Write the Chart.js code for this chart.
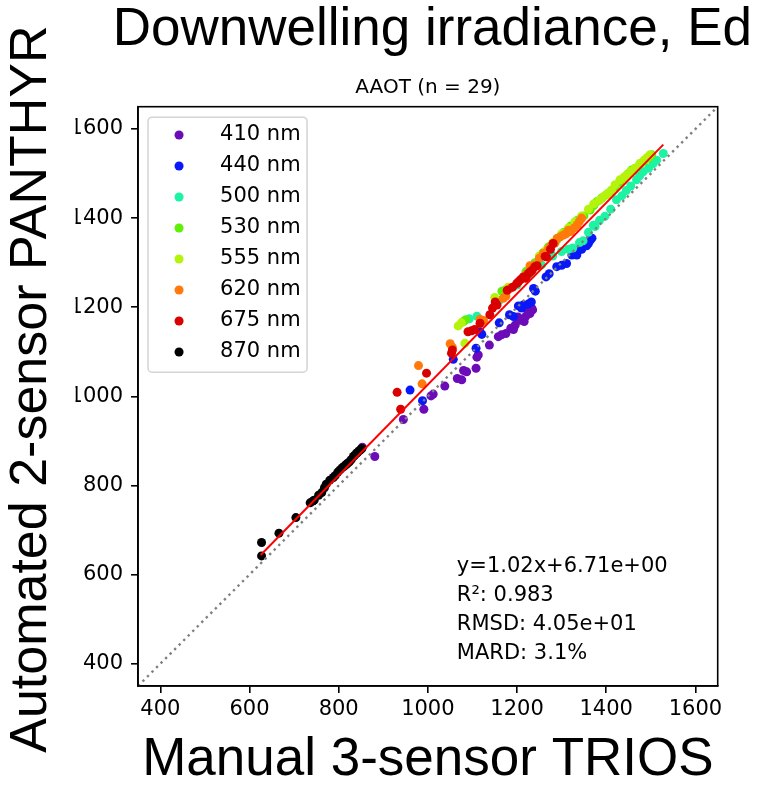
<!DOCTYPE html>
<html>
<head>
<meta charset="utf-8">
<script src="https://cdn.jsdelivr.net/npm/chart.js@4"></script>
<style>
  html, body { margin: 0; padding: 0; background: #fff; }
  canvas { display: block; }
</style>
</head>
<body>
<canvas id="myChart" width="761" height="788"></canvas>
<script>
// wavelengths (nm) and their colours
const wavelengths = [410, 440, 500, 530, 555, 620, 675, 870];
const colors = ['#6c0cb8', '#0818f8', '#1cf4a4', '#60f008', '#b4f40c', '#ff7a0a', '#d80000', '#000000'];

// [TRIOS, PANTHYR] pairs, one list per band
const ed410 = [[853,886],[881,865],[945,948],[991,971],[1007,1001],[1012,1005],[1038,1023],[1066,1040],[1076,1037],[1080,1058],[1087,1055],[1108,1063],[1110,1088],[1113,1093],[1138,1115],[1158,1134],[1165,1138],[1175,1141],[1186,1153],[1192,1150],[1196,1160],[1202,1178],[1207,1171],[1216,1168],[1220,1180],[1225,1190],[1229,1186],[1233,1198],[1235,1194]];
const ed440 = [[960,1014],[988,990],[1057,1083],[1108,1108],[1117,1145],[1121,1139],[1160,1165],[1183,1183],[1192,1179],[1203,1203],[1210,1198],[1214,1205],[1225,1207],[1232,1212],[1237,1242],[1241,1236],[1265,1268],[1272,1275],[1289,1291],[1300,1294],[1311,1298],[1323,1317],[1334,1317],[1338,1328],[1345,1330],[1356,1338],[1360,1343],[1364,1350],[1368,1355]];
const ed500 = [[1093,1174],[1110,1180],[1160,1215],[1200,1250],[1230,1275],[1255,1295],[1280,1315],[1300,1325],[1315,1330],[1325,1333],[1340,1345],[1348,1349],[1360,1368],[1371,1384],[1375,1381],[1385,1395],[1397,1404],[1410,1420],[1423,1441],[1435,1450],[1445,1462],[1455,1472],[1468,1486],[1475,1495],[1483,1504],[1495,1512],[1505,1522],[1513,1530],[1528,1545]];
const ed530 = [[1080,1168],[1085,1172],[1166,1236],[1175,1240],[1220,1280],[1240,1300],[1258,1322],[1270,1335],[1290,1352],[1305,1368],[1320,1382],[1335,1395],[1350,1405],[1364,1418],[1372,1428],[1379,1437],[1390,1445],[1400,1452],[1410,1460],[1420,1470],[1430,1480],[1440,1490],[1450,1500],[1457,1508],[1465,1512],[1475,1520],[1485,1528],[1495,1535],[1502,1542]];
const ed555 = [[1068,1158],[1075,1165],[1083,1119],[1150,1222],[1180,1245],[1230,1290],[1250,1315],[1265,1328],[1280,1345],[1300,1365],[1315,1378],[1330,1392],[1345,1405],[1360,1420],[1372,1432],[1385,1440],[1394,1448],[1403,1455],[1412,1463],[1420,1475],[1431,1486],[1440,1492],[1446,1497],[1455,1505],[1465,1512],[1476,1523],[1485,1530],[1492,1536],[1498,1542]];
const ed620 = [[979,1069],[987,1028],[1050,1118],[1055,1110],[1117,1173],[1125,1170],[1169,1220],[1175,1225],[1184,1242],[1215,1268],[1222,1275],[1229,1293],[1240,1295],[1250,1310],[1259,1321],[1270,1330],[1275,1337],[1281,1343],[1285,1344],[1290,1355],[1297,1358],[1304,1362],[1310,1365],[1315,1373],[1320,1370],[1328,1378],[1335,1385],[1340,1393],[1345,1400]];
const ed675 = [[931,1009],[939,971],[997,1052],[1053,1097],[1055,1104],[1090,1145],[1098,1147],[1105,1150],[1117,1164],[1139,1183],[1145,1198],[1151,1212],[1155,1205],[1178,1238],[1190,1245],[1199,1253],[1203,1257],[1208,1262],[1214,1268],[1220,1265],[1225,1275],[1229,1279],[1234,1283],[1240,1291],[1245,1293],[1263,1314],[1266,1313],[1275,1330],[1281,1343]];
const ed870 = [[627,672],[627,642],[666,693],[704,728],[736,761],[742,765],[745,767],[755,778],[762,784],[768,795],[772,803],[780,812],[788,818],[792,822],[798,830],[803,835],[808,840],[812,843],[817,847],[820,850],[824,853],[828,858],[833,865],[836,868],[840,872],[842,874],[846,878],[849,880],[852,883]];
const series = [ed410, ed440, ed500, ed530, ed555, ed620, ed675, ed870];

// 1:1 line and regression line end points
const oneToOne = [[350,350],[1650,1650]];
const fitLine = [[625,644],[1528,1565]];

const axisMin = 350, axisMax = 1650, tickStep = 200;
const statsLines = ['y=1.02x+6.71e+00', 'R\u00b2: 0.983', 'RMSD: 4.05e+01', 'MARD: 3.1%'];

Chart.defaults.font.family = 'DejaVu Sans';
Chart.defaults.color = '#000';

const toXY = arr => arr.map(p => ({x: p[0], y: p[1]}));

const datasets = series.map((s, i) => ({
  label: wavelengths[i] + ' nm',
  data: toXY(s),
  backgroundColor: colors[i],
  borderColor: colors[i],
  borderWidth: 0,
  pointRadius: 4.5,
  pointHoverRadius: 4.5,
  order: 10 - i
}));
datasets.push({
  label: '1:1',
  data: toXY(oneToOne),
  showLine: true,
  borderColor: '#808080',
  borderWidth: 2.4,
  borderDash: [2.4, 4],
  pointRadius: 0,
  order: 1
});
datasets.push({
  label: 'fit',
  data: toXY(fitLine),
  showLine: true,
  borderColor: '#ff0000',
  borderWidth: 2,
  pointRadius: 0,
  order: 0
});

// frame, legend box, stats text, and the cut-off of the y labels
const extras = {
  id: 'extras',
  afterLayout(chart) {
    const a = chart.chartArea;
    // legend sits inside the axes, title runs wider than the axes
    chart.legend.left = a.left + 20.5;
    chart.legend.top = a.top + 7.8;
    chart.legend.bottom = a.bottom;
    chart.titleBlock.left = a.left - 40;
    chart.titleBlock.right = a.right + 49;
  },
  afterDraw(chart) {
    const ctx = chart.ctx;
    const a = chart.chartArea;
    const w = a.right - a.left;
    ctx.save();
    // white strip over the left of the y tick labels
    ctx.fillStyle = '#fff';
    ctx.fillRect(56, a.top - 5, 19.5, a.bottom - a.top + 10);
    // axes frame
    ctx.strokeStyle = '#000';
    ctx.lineWidth = 1.6;
    ctx.strokeRect(a.left, a.top, w, a.bottom - a.top);
    // legend frame
    ctx.strokeStyle = '#d4d4d4';
    ctx.lineWidth = 1.5;
    ctx.beginPath();
    ctx.roundRect(a.left + 10, a.top + 10.5, 159, 255, 4);
    ctx.stroke();
    // stats
    ctx.fillStyle = '#000';
    ctx.font = '21px "DejaVu Sans"';
    ctx.textAlign = 'left';
    ctx.textBaseline = 'alphabetic';
    const x0 = a.left + 0.55 * w;
    statsLines.forEach((t, i) => {
      ctx.fillText(t, x0, a.bottom - 27.5 - (statsLines.length - 1 - i) * 29);
    });
    ctx.restore();
  }
};

const axisOpts = (title, tickPad, titlePad) => ({
  type: 'linear',
  min: axisMin,
  max: axisMax,
  ticks: {
    stepSize: tickStep,
    includeBounds: false,
    padding: tickPad,
    color: '#000',
    font: {family: 'DejaVu Sans', size: 21},
    callback: value => String(value)
  },
  grid: {
    display: true,
    drawOnChartArea: false,
    drawTicks: true,
    tickLength: 7,
    color: '#000',
    lineWidth: 1.6
  },
  border: {display: true, color: '#000', width: 1.6},
  title: {
    display: true,
    text: title,
    color: '#000',
    font: {family: 'Liberation Sans', size: title.length > 22 ? 52 : 53, lineHeight: 1},
    padding: titlePad
  }
});

var ctx = document.getElementById('myChart').getContext('2d');
var myChart = new Chart(ctx, {
  type: 'scatter',
  data: {datasets: datasets},
  options: {
    responsive: false,
    animation: false,
    events: [],
    layout: {padding: {left: 5.6, right: 43.3, top: 0, bottom: 0.8}},
    scales: {
      x: axisOpts('Manual 3-sensor TRIOS', 4, {top: 8, bottom: 0}),
      y: axisOpts(' Automated 2-sensor PANTHYR', 8, {top: 0, bottom: 4})
    },
    plugins: {
      title: {
        display: true,
        text: 'Downwelling irradiance, Ed',
        fullSize: false,
        color: '#000',
        font: {family: 'Liberation Sans', size: 53, weight: 'normal', lineHeight: 1},
        padding: {top: 4, bottom: 0}
      },
      subtitle: {
        display: true,
        text: 'AAOT (n = 29)',
        fullSize: false,
        color: '#000',
        font: {family: 'DejaVu Sans', size: 20},
        padding: {top: 18.5, bottom: 7.2}
      },
      legend: {
        position: 'chartArea',
        align: 'start',
        labels: {
          usePointStyle: true,
          pointStyle: 'circle',
          boxHeight: 6.4,
          padding: 10,
          color: '#000',
          font: {family: 'DejaVu Sans', size: 21},
          filter: item => item.datasetIndex < wavelengths.length,
          sort: (a, b) => a.datasetIndex - b.datasetIndex,
          generateLabels: function(chart) {
            const items = Chart.defaults.plugins.legend.labels.generateLabels(chart);
            items.forEach(function(it) { it.text = '   ' + it.text; });
            return items;
          }
        }
      },
      tooltip: {enabled: false}
    }
  },
  plugins: [extras]
});
</script>
</body>
</html>
